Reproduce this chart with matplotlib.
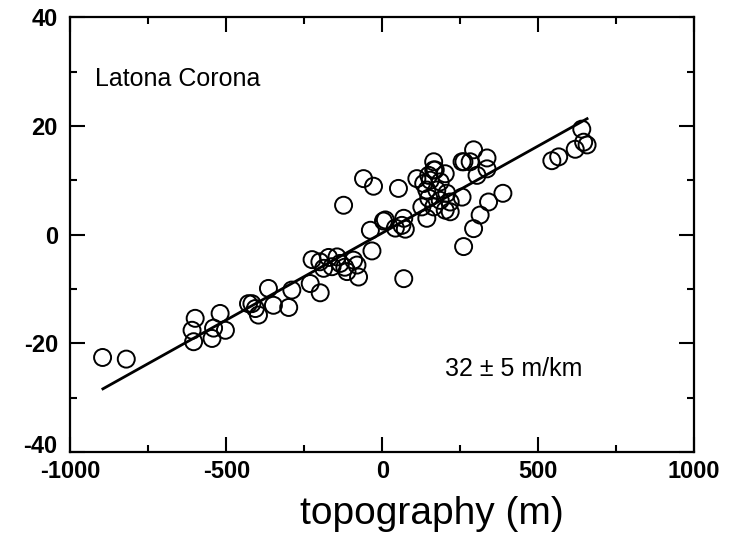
import matplotlib
matplotlib.use("Agg")
import matplotlib.pyplot as plt
import numpy as np
from matplotlib.ticker import MultipleLocator, FuncFormatter

plt.rcParams["font.family"] = ["Liberation Sans", "DejaVu Sans"]
plt.rcParams["axes.unicode_minus"] = False

# topography (m) and the matching values
topo = [
    -897, -821,
    -600, -610, -605, -520, -541, -546, -503, -429,
    -418, -407, -397, -365, -349, -300, -290, -231, -199,
    -225, -172, -145, -188, -161, -135, -113, -92, -81, -76, -200, -120,
    -124, -60, -28, -38, -33, 4, 10, 42, 63, 69, 74, 52, 69,
    111, 133, 143, 149, 127, 165, 170, 165, 154, 186, 202, 175, 207,
    149, 186, 218, 165, 202, 218, 143,
    256, 262, 282, 293, 304, 336, 336, 256, 261, 293, 314, 341, 387,
    544, 566, 619, 640, 646, 657,
]
values = [
    -22.6, -22.9,
    -15.4, -17.6, -19.7, -14.5, -17.2, -19.1, -17.6, -12.7,
    -12.7, -13.6, -14.8, -9.9, -13.0, -13.4, -10.2, -9.0, -10.7,
    -4.6, -4.2, -4.1, -6.2, -5.9, -5.3, -6.8, -4.7, -5.6, -7.8, -5.0, -6.0,
    5.4, 10.3, 8.9, 0.8, -3.0, 2.5, 2.7, 1.2, 1.7, 3.0, 1.0, 8.5, -8.1,
    10.3, 9.4, 8.2, 10.9, 5.1, 13.4, 11.9, 11.9, 10.0, 9.7, 11.2, 8.2, 7.6,
    6.7, 6.3, 6.0, 5.1, 4.5, 4.2, 3.0,
    13.4, 13.4, 13.4, 15.6, 10.9, 14.1, 12.1, 6.9, -2.2, 1.1, 3.6, 6.0, 7.6,
    13.6, 14.3, 15.7, 19.4, 17.0, 16.5,
]

# least squares line of the paper: 32 +/- 5 m/km
fit_x = [-896, 657]
slope = 0.032
intercept = 0.3

fig = plt.figure(figsize=(7.31, 5.54), dpi=100)
ax = fig.add_axes([0.0964, 0.184, 0.853, 0.785])

ax.scatter(topo, values, s=150, facecolors="none", edgecolors="black",
           linewidths=1.4, zorder=3)
fx = np.array(fit_x)
ax.plot(fx, slope * fx + intercept, color="black", lw=2.0, zorder=2)

ax.set_xlim(-1000, 1000)
ax.set_ylim(-40, 40)
ax.xaxis.set_major_locator(MultipleLocator(500))
ax.xaxis.set_minor_locator(MultipleLocator(250))
ax.yaxis.set_major_locator(MultipleLocator(20))
ax.yaxis.set_minor_locator(MultipleLocator(10))
# the bottom y label is drawn by hand below so it sits clear of "-1000"
ax.yaxis.set_major_formatter(FuncFormatter(
    lambda v, pos: "" if v <= -40 else f"{v:.0f}"))
ax.tick_params(which="both", direction="in", top=True, right=True,
               width=1.5, labelsize=17)
ax.tick_params(which="major", length=11)
ax.tick_params(which="minor", length=5)
ax.tick_params(axis="x", pad=6)
ax.tick_params(axis="y", pad=9)
for lab in ax.get_xticklabels() + ax.get_yticklabels():
    lab.set_fontweight("bold")
for side in ax.spines.values():
    side.set_linewidth(1.6)

ax.text(-0.021, 0.013, "-40", transform=ax.transAxes, fontsize=17,
        fontweight="bold", ha="right", va="center")

ax.set_xlabel("topography (m)", fontsize=28)
ax.xaxis.set_label_coords(0.58, -0.10)

ax.text(0.039, 0.858, "Latona Corona", transform=ax.transAxes,
        fontsize=18, va="center")
ax.text(0.60, 0.19, "32 \u00b1 5 m/km", transform=ax.transAxes,
        fontsize=18, va="center")

fig.savefig("out.png", dpi=100)
